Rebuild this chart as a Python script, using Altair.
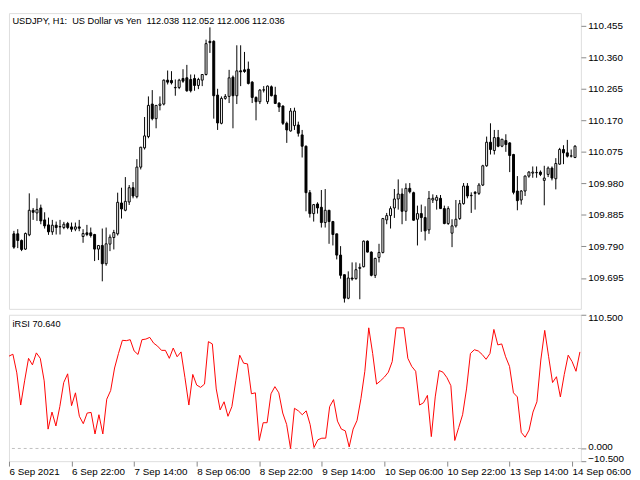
import altair as alt
import pandas as pd

FONT = "Liberation Sans"
FS = 9.4

title_text = "USDJPY, H1:\u00a0 US Dollar vs Yen\u00a0 112.038 112.052 112.006 112.036"
rsi_text = "iRSI 70.640"

opens = [109.828, 109.828, 109.808, 109.782, 109.825, 109.899, 109.891, 109.906, 109.870, 109.855,
         109.834, 109.854, 109.849, 109.847, 109.859, 109.849, 109.842, 109.849, 109.820, 109.831,
         109.831, 109.826, 109.782, 109.793, 109.738, 109.797, 109.817, 109.828, 109.921, 109.899,
         109.924, 109.967, 109.940, 110.029, 110.087, 110.121, 110.219, 110.175, 110.215, 110.219,
         110.291, 110.290, 110.268, 110.269, 110.296, 110.298, 110.293, 110.296, 110.275, 110.291,
         110.308, 110.408, 110.408, 110.246, 110.161, 110.236, 110.242, 110.300, 110.244, 110.319,
         110.322, 110.324, 110.285, 110.239, 110.226, 110.261, 110.226, 110.271, 110.246, 110.222,
         110.213, 110.161, 110.138, 110.154, 110.156, 110.126, 110.092, 109.952, 109.889, 109.918,
         109.908, 109.862, 109.899, 109.865, 109.828, 109.764, 109.705, 109.634, 109.695, 109.693,
         109.724, 109.729, 109.806, 109.773, 109.703, 109.757, 109.772, 109.870, 109.883, 109.906,
         109.933, 109.948, 109.896, 109.965, 109.952, 109.872, 109.889, 109.877, 109.840, 109.930,
         109.929, 109.935, 109.904, 109.859, 109.830, 109.852, 109.874, 109.919, 109.972, 109.943,
         109.953, 109.950, 109.975, 110.033, 110.104, 110.079, 110.118, 110.092, 110.109, 110.102,
         110.067, 109.957, 109.930, 109.957, 110.002, 110.011, 110.012, 110.014, 109.989, 110.007,
         110.026, 109.994, 110.038, 110.082, 110.072, 110.062, 110.058]
highs = [109.837, 109.842, 109.811, 109.832, 109.950, 109.906, 109.935, 109.916, 109.893, 109.877,
         109.870, 109.865, 109.870, 109.864, 109.864, 109.862, 109.862, 109.870, 109.842, 109.855,
         109.847, 109.828, 109.794, 109.844, 109.847, 109.826, 109.840, 109.952, 109.967, 109.999,
         109.975, 109.984, 110.053, 110.090, 110.180, 110.242, 110.261, 110.216, 110.242, 110.293,
         110.320, 110.318, 110.293, 110.295, 110.324, 110.337, 110.308, 110.308, 110.298, 110.309,
         110.413, 110.450, 110.411, 110.265, 110.242, 110.249, 110.322, 110.305, 110.396, 110.396,
         110.376, 110.347, 110.288, 110.242, 110.264, 110.273, 110.275, 110.275, 110.271, 110.224,
         110.215, 110.166, 110.207, 110.208, 110.166, 110.141, 110.094, 109.960, 109.918, 109.923,
         109.960, 109.963, 109.900, 109.867, 109.828, 109.791, 109.705, 109.715, 109.742, 109.742,
         109.739, 109.808, 109.808, 109.775, 109.756, 109.798, 109.876, 109.891, 109.911, 109.963,
         109.992, 109.965, 109.980, 109.981, 109.955, 109.913, 109.916, 109.911, 109.957, 109.947,
         109.945, 109.945, 109.913, 109.911, 109.872, 109.930, 109.930, 109.981, 109.981, 109.953,
         109.957, 109.981, 110.036, 110.121, 110.161, 110.141, 110.141, 110.114, 110.128, 110.104,
         110.069, 110.002, 109.960, 110.004, 110.017, 110.031, 110.031, 110.019, 110.033, 110.031,
         110.031, 110.056, 110.087, 110.095, 110.111, 110.082, 110.095]
lows = [109.783, 109.785, 109.776, 109.780, 109.821, 109.870, 109.867, 109.857, 109.844, 109.825,
        109.825, 109.826, 109.826, 109.842, 109.842, 109.834, 109.836, 109.836, 109.801, 109.821,
        109.817, 109.746, 109.749, 109.685, 109.732, 109.776, 109.781, 109.823, 109.874, 109.896,
        109.915, 109.935, 109.935, 110.022, 110.082, 110.116, 110.170, 110.146, 110.200, 110.215,
        110.278, 110.278, 110.244, 110.264, 110.283, 110.256, 110.254, 110.259, 110.264, 110.273,
        110.305, 110.373, 110.175, 110.141, 110.158, 110.232, 110.222, 110.146, 110.219, 110.273,
        110.313, 110.278, 110.222, 110.170, 110.219, 110.254, 110.219, 110.242, 110.219, 110.195,
        110.156, 110.102, 110.136, 110.141, 110.121, 110.058, 109.896, 109.877, 109.865, 109.889,
        109.847, 109.847, 109.798, 109.793, 109.751, 109.693, 109.621, 109.631, 109.687, 109.690,
        109.631, 109.727, 109.772, 109.700, 109.695, 109.742, 109.769, 109.857, 109.844, 109.876,
        109.901, 109.857, 109.867, 109.950, 109.868, 109.793, 109.834, 109.808, 109.828, 109.921,
        109.901, 109.903, 109.857, 109.855, 109.788, 109.847, 109.870, 109.916, 109.935, 109.891,
        109.901, 109.945, 109.972, 110.030, 110.067, 110.067, 110.089, 110.089, 110.075, 110.014,
        109.947, 109.899, 109.916, 109.942, 109.997, 109.997, 109.997, 110.002, 109.914, 109.999,
        109.989, 109.962, 110.036, 110.038, 110.058, 110.058, 110.056]
closes = [109.788, 109.808, 109.781, 109.829, 109.899, 109.893, 109.901, 109.867, 109.852, 109.834,
          109.854, 109.847, 109.850, 109.857, 109.847, 109.842, 109.849, 109.845, 109.829, 109.826,
          109.823, 109.782, 109.793, 109.738, 109.798, 109.818, 109.832, 109.923, 109.903, 109.926,
          109.967, 109.942, 110.029, 110.089, 110.123, 110.215, 110.175, 110.215, 110.219, 110.291,
          110.285, 110.283, 110.269, 110.291, 110.288, 110.259, 110.259, 110.275, 110.293, 110.308,
          110.401, 110.404, 110.244, 110.162, 110.236, 110.242, 110.298, 110.244, 110.319, 110.316,
          110.317, 110.281, 110.239, 110.226, 110.261, 110.262, 110.273, 110.244, 110.221, 110.210,
          110.161, 110.141, 110.198, 110.198, 110.131, 110.092, 109.952, 109.889, 109.916, 109.906,
          109.862, 109.899, 109.865, 109.826, 109.764, 109.703, 109.634, 109.695, 109.692, 109.720,
          109.727, 109.806, 109.773, 109.703, 109.754, 109.772, 109.874, 109.883, 109.904, 109.933,
          109.948, 109.896, 109.965, 109.955, 109.869, 109.889, 109.877, 109.837, 109.935, 109.935,
          109.938, 109.904, 109.859, 109.904, 109.852, 109.872, 109.919, 109.972, 109.942, 109.944,
          109.950, 109.975, 110.033, 110.104, 110.082, 110.118, 110.092, 110.113, 110.097, 110.064,
          109.953, 109.928, 109.957, 110.002, 110.014, 110.014, 110.013, 110.007, 109.996, 110.026,
          109.996, 110.040, 110.082, 110.072, 110.062, 110.063, 110.092]
rsi = [76.3, 77.9, 62.5, 35.9, 55.9, 74.5, 69.1, 79.0, 74.5, 55.9,
       16.0, 30.1, 18.6, 34.6, 54.5, 61.7, 35.4, 46.0, 26.6, 20.5,
       29.3, 29.8, 12.0, 27.9, 12.0, 40.7, 47.9, 66.5, 78.5, 89.4,
       89.1, 89.9, 80.6, 77.7, 89.9, 90.4, 91.8, 87.0, 84.6, 81.1,
       81.1, 74.5, 83.0, 75.8, 79.8, 58.5, 35.9, 61.2, 52.4, 50.5,
       53.2, 88.3, 86.4, 49.2, 31.9, 38.6, 26.6, 34.6, 55.9, 77.1,
       70.5, 69.9, 45.2, 46.0, 6.6, 21.3, 21.3, 45.2, 51.1, 46.0,
       29.3, 19.9, 0.0, 33.2, 31.1, 27.9, 31.1, 19.9, 0.8, 7.2,
       8.5, 8.5, 34.6, 40.4, 22.6, 16.0, 14.6, 1.3, 16.0, 23.1,
       41.2, 63.8, 99.7, 78.5, 53.2, 55.9, 59.0, 63.0, 71.8, 99.7,
       99.7, 99.7, 74.5, 67.8, 63.8, 35.9, 37.8, 43.9, 9.8, 42.6,
       64.4, 63.0, 58.5, 51.9, 6.6, 17.3, 27.9, 49.2, 78.5, 81.6,
       80.6, 77.7, 73.7, 78.5, 98.4, 85.6, 86.4, 75.8, 67.8, 46.0,
       42.6, 13.3, 9.3, 15.2, 30.1, 38.6, 73.1, 97.6, 75.8, 54.5,
       59.3, 42.6, 61.2, 77.1, 71.8, 63.8, 79.8]

price_ticks = [109.695, 109.790, 109.885, 109.980, 110.075, 110.170, 110.265, 110.360, 110.455]
rsi_ticks = [110.5, 0.0, -10.5]
time_tick_idx = [0, 16, 32, 48, 64, 80, 96, 112, 128, 144]
time_labels = ["6 Sep 2021", "6 Sep 22:00", "7 Sep 14:00", "8 Sep 06:00", "8 Sep 22:00",
               "9 Sep 14:00", "10 Sep 06:00", "10 Sep 22:00", "13 Sep 14:00", "14 Sep 06:00"]

df = pd.DataFrame({"i": list(range(len(opens))), "o": opens, "h": highs,
                   "l": lows, "c": closes, "rsi": rsi})

W = 582
H1 = 301
H2 = 149

xs = alt.Scale(domain=[0, 146.25], nice=False, zero=False)
ys = alt.Scale(domain=[109.602, 110.493], nice=False, zero=False)
rs = alt.Scale(domain=[-10.5, 110.5], nice=False, zero=False)


def price_axis():
    return alt.Axis(orient="right", values=price_ticks, format=".3f", grid=False,
                    labelOverlap=False, labelFlush=False, domain=False, ticks=True)


def rsi_axis():
    return alt.Axis(orient="right", values=rsi_ticks, format=".3f", grid=False,
                    labelFlush=True, labelFlushOffset=2, labelOverlap=False, domain=False,
                    labelOffset={"condition": {"test": "datum.value == 0", "value": -2},
                                 "value": 0})


label_expr = "[" + ",".join("'" + s + "'" for s in time_labels) + "][round(datum.value / 16)]"


def time_axis():
    return alt.Axis(values=time_tick_idx, labelExpr=label_expr, labelAlign="left", grid=False,
                    labelFlush=False, labelOverlap=False, labelPadding=1, domain=False)


base = alt.Chart(df)

wick = base.mark_rule(color="black", strokeWidth=1, clip=True).encode(
    x=alt.X("i:Q", scale=xs, axis=None),
    y=alt.Y("l:Q", scale=ys, title=None, axis=price_axis()),
    y2="h:Q",
)
body = base.mark_bar(size=2, stroke="black", strokeWidth=1, clip=True).encode(
    x=alt.X("i:Q", scale=xs, axis=None),
    y=alt.Y("o:Q", scale=ys, title=None, axis=price_axis()),
    y2="c:Q",
    fill=alt.condition("datum.c >= datum.o", alt.value("white"), alt.value("black")),
)
title = alt.Chart(pd.DataFrame({"t": [title_text]})).mark_text(
    align="left", baseline="middle", font=FONT, fontSize=FS, color="black"
).encode(x=alt.value(3.5), y=alt.value(8), text="t:N")

main = alt.layer(wick, body, title).properties(width=W, height=H1)

line = base.mark_line(color="#ff0000", strokeWidth=1, clip=True).encode(
    x=alt.X("i:Q", scale=xs, title=None, axis=time_axis()),
    y=alt.Y("rsi:Q", scale=rs, title=None, axis=rsi_axis()),
)
zero = alt.Chart(pd.DataFrame({"z": [0.0]})).mark_rule(
    color="#c0c0c0", strokeDash=[3, 3], strokeWidth=1
).encode(y=alt.Y("z:Q", scale=rs, title=None, axis=rsi_axis()))
rsi_label = alt.Chart(pd.DataFrame({"t": [rsi_text]})).mark_text(
    align="left", baseline="middle", font=FONT, fontSize=FS, color="black"
).encode(x=alt.value(3.5), y=alt.value(9), text="t:N")

lower = alt.layer(zero, line, rsi_label).properties(width=W, height=H2)

chart = alt.vconcat(main, lower, spacing=2).properties(
    padding={"left": 0, "top": 0, "right": 0, "bottom": 0}
).configure_view(
    stroke="black", strokeWidth=1
).configure_axis(
    labelFont=FONT, labelFontSize=FS, labelColor="black", tickColor="black",
    tickSize=4, domain=False, grid=False, labelPadding=2, tickWidth=1
).configure(background="white")

chart.save("out.html", embed_options={"renderer": "svg", "actions": False})
